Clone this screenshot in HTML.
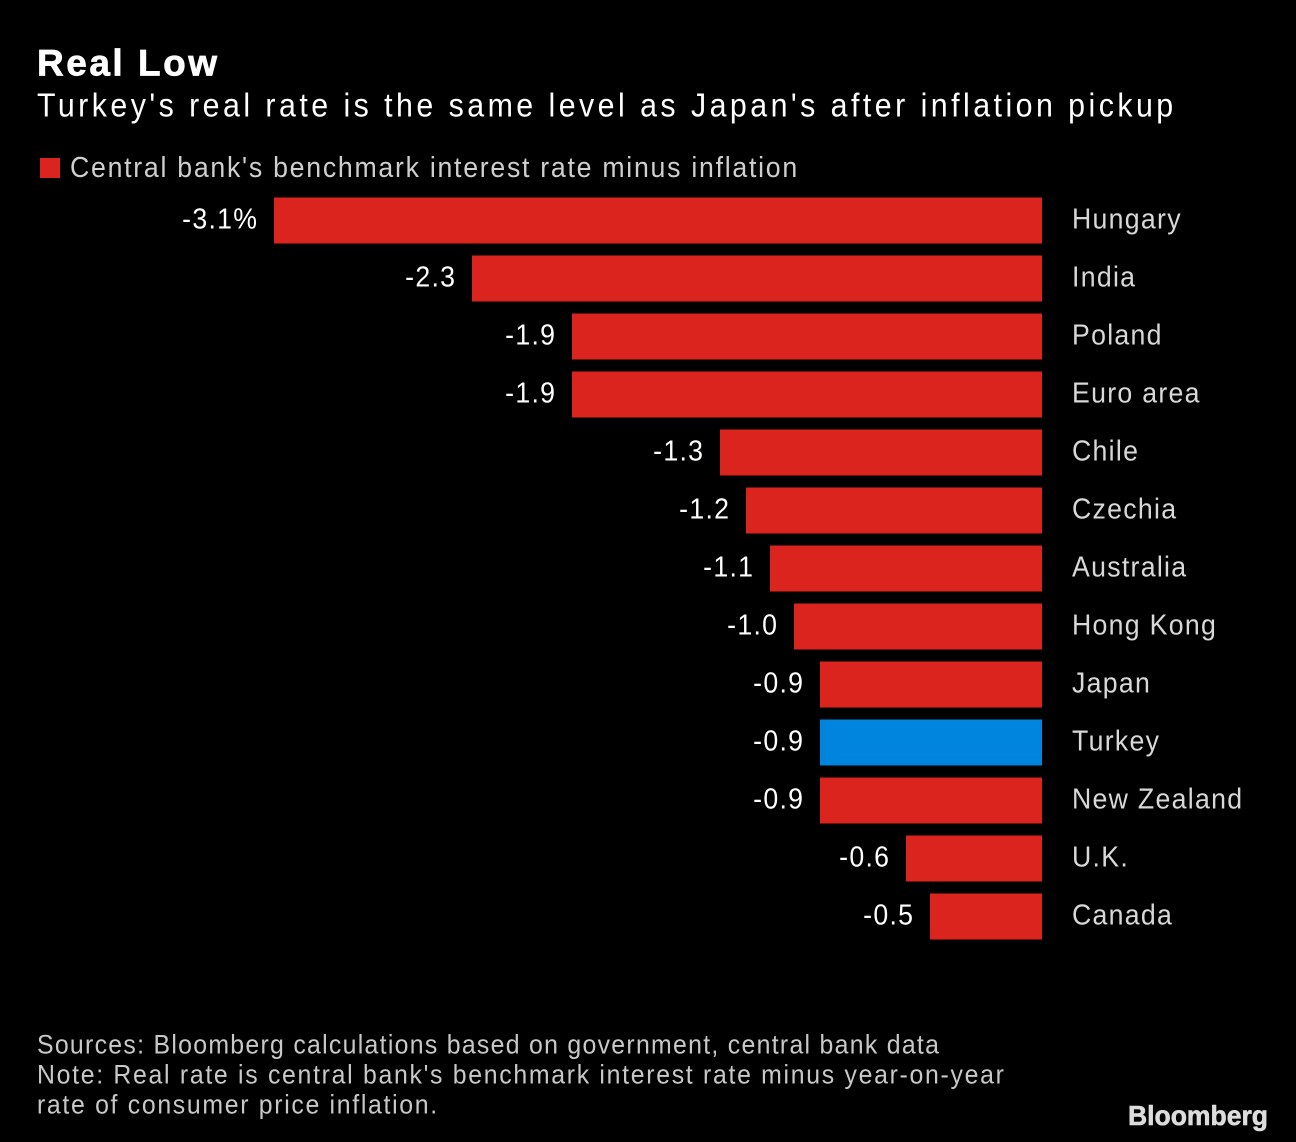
<!DOCTYPE html>
<html>
<head>
<meta charset="utf-8">
<title>Real Low</title>
<style>
html,body{margin:0;padding:0;background:#000;width:1296px;height:1142px;overflow:hidden}
svg{display:block}
text{font-family:"Liberation Sans",sans-serif}
</style>
</head>
<body>
<svg id="chart" xmlns="http://www.w3.org/2000/svg" width="1296" height="1142" viewBox="0 0 1296 1142">
<rect width="1296" height="1142" fill="#000"/>
<text x="37" y="75.5" font-size="37" font-weight="700" fill="#fff" stroke="#fff" stroke-width="0.7" textLength="180" lengthAdjust="spacing">Real Low</text>
<text transform="scale(.92 1)" x="40.2" y="116.5" font-size="33" fill="#fff" textLength="1235" lengthAdjust="spacing">Turkey's real rate is the same level as Japan's after inflation pickup</text>
<rect x="40" y="158" width="20" height="20" fill="#dc241f"/>
<text transform="scale(.92 1)" x="76.1" y="177" font-size="29" fill="#cfcfcf" textLength="790.4" lengthAdjust="spacing">Central bank's benchmark interest rate minus inflation</text>
<g id="bars"></g>
<text transform="scale(.92 1)" x="40.2" y="1053.5" font-size="27" fill="#c8c8c8" textLength="980.4" lengthAdjust="spacing">Sources: Bloomberg calculations based on government, central bank data</text>
<text transform="scale(.92 1)" x="40.2" y="1083.5" font-size="27" fill="#c8c8c8" textLength="1051" lengthAdjust="spacing">Note: Real rate is central bank's benchmark interest rate minus year-on-year</text>
<text transform="scale(.92 1)" x="40.2" y="1113.5" font-size="27" fill="#c8c8c8" textLength="435" lengthAdjust="spacing">rate of consumer price inflation.</text>
<text x="1128" y="1125" font-size="28" font-weight="700" fill="#dcdcdc" stroke="#dcdcdc" stroke-width="0.6" textLength="140" lengthAdjust="spacingAndGlyphs">Bloomberg</text>
</svg>
<script>
const categories = ["Hungary","India","Poland","Euro area","Chile","Czechia","Australia","Hong Kong","Japan","Turkey","New Zealand","U.K.","Canada"];
const values = [-3.1,-2.3,-1.895,-1.895,-1.3,-1.195,-1.097,-1.0,-0.895,-0.895,-0.895,-0.55,-0.452];
const valueLabels = ["-3.1%","-2.3","-1.9","-1.9","-1.3","-1.2","-1.1","-1.0","-0.9","-0.9","-0.9","-0.6","-0.5"];
const highlighted = ["Turkey"];

const SVG_NS = "http://www.w3.org/2000/svg";
const zeroX = 1042;
const pxPerUnit = 247.8;
const firstTop = 197.5;
const rowStep = 58;
const barHeight = 46;
const glyphScale = 0.92;
const labelSpacing = 1.4;
const xScale = v => Math.round(zeroX + v * pxPerUnit);
const yScale = i => firstTop + i * rowStep;
const group = document.getElementById("bars");

categories.forEach((name, i) => {
  const left = xScale(values[i]);
  const top = yScale(i);
  const slug = name.toLowerCase().replace(/[^a-z]+/g, "-").replace(/-$/, "");

  const bar = document.createElementNS(SVG_NS, "rect");
  
  
  bar.setAttribute("x", left);
  bar.setAttribute("y", top);
  bar.setAttribute("width", zeroX - left);
  bar.setAttribute("height", barHeight);
  bar.setAttribute("fill", highlighted.includes(name) ? "#0085de" : "#dc241f");
  group.appendChild(bar);

  const val = document.createElementNS(SVG_NS, "text");
  
  
  val.setAttribute("transform", "scale(" + glyphScale + " 1)");
  val.setAttribute("x", (left - 17) / glyphScale + labelSpacing);
  val.setAttribute("y", top + 31);
  val.setAttribute("text-anchor", "end");
  val.setAttribute("font-size", "29");
  val.setAttribute("letter-spacing", labelSpacing);
  val.setAttribute("fill", "#fff");
  val.textContent = valueLabels[i];
  group.appendChild(val);

  const cat = document.createElementNS(SVG_NS, "text");
  
  
  cat.setAttribute("transform", "scale(" + glyphScale + " 1)");
  cat.setAttribute("x", 1072 / glyphScale);
  cat.setAttribute("y", top + 31);
  cat.setAttribute("font-size", "29");
  cat.setAttribute("letter-spacing", labelSpacing);
  cat.setAttribute("fill", "#d8d8d8");
  cat.textContent = name;
  group.appendChild(cat);
});
</script>
</body>
</html>
